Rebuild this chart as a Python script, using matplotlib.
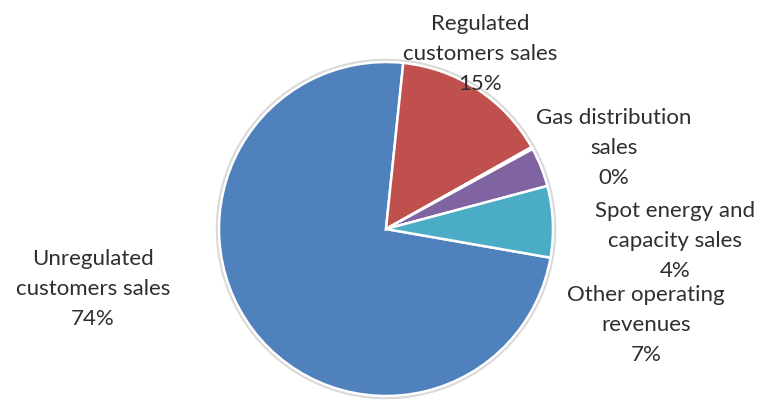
import matplotlib.pyplot as plt
from matplotlib.patches import Circle

# revenue breakdown
categories = ["Unregulated\ncustomers sales", "Regulated\ncustomers sales",
              "Gas distribution\nsales", "Spot energy and\ncapacity sales",
              "Other operating\nrevenues"]
shares = [73.9, 15.2, 0.2, 3.8, 6.9]
colors = ["#4F81BD", "#C0504D", "#9BBB59", "#8064A2", "#4BACC6"]

# label anchors (pixel coords, y from top)
label_pos = [(93, 289), (480, 54), (614, 148), (675, 241), (646, 325)]

W, H = 771, 409
fig = plt.figure(figsize=(W / 100, H / 100), dpi=100)
ax = fig.add_axes([0, 0, 1, 1])

cx, cy, r = 386, H - 229, 167

# soft outline around the pie
ax.add_patch(Circle((cx, cy), r + 1.5, facecolor="none", edgecolor="#d9d9d9", lw=2.5, zorder=0))

ax.pie(shares, colors=colors, startangle=-9.9, counterclock=False,
       center=(cx, cy), radius=r, frame=True,
       wedgeprops=dict(edgecolor="white", linewidth=1.8))
ax.set_xlim(0, W)
ax.set_ylim(0, H)
ax.set_aspect("equal")
ax.axis("off")

for name, val, (x, y) in zip(categories, shares, label_pos):
    ax.text(x, H - y, f"{name}\n{round(val)}%", ha="center", va="center",
            fontsize=16, family="Lato", color="#2e2e2e", linespacing=1.6)

fig.savefig("out.png", dpi=100)
